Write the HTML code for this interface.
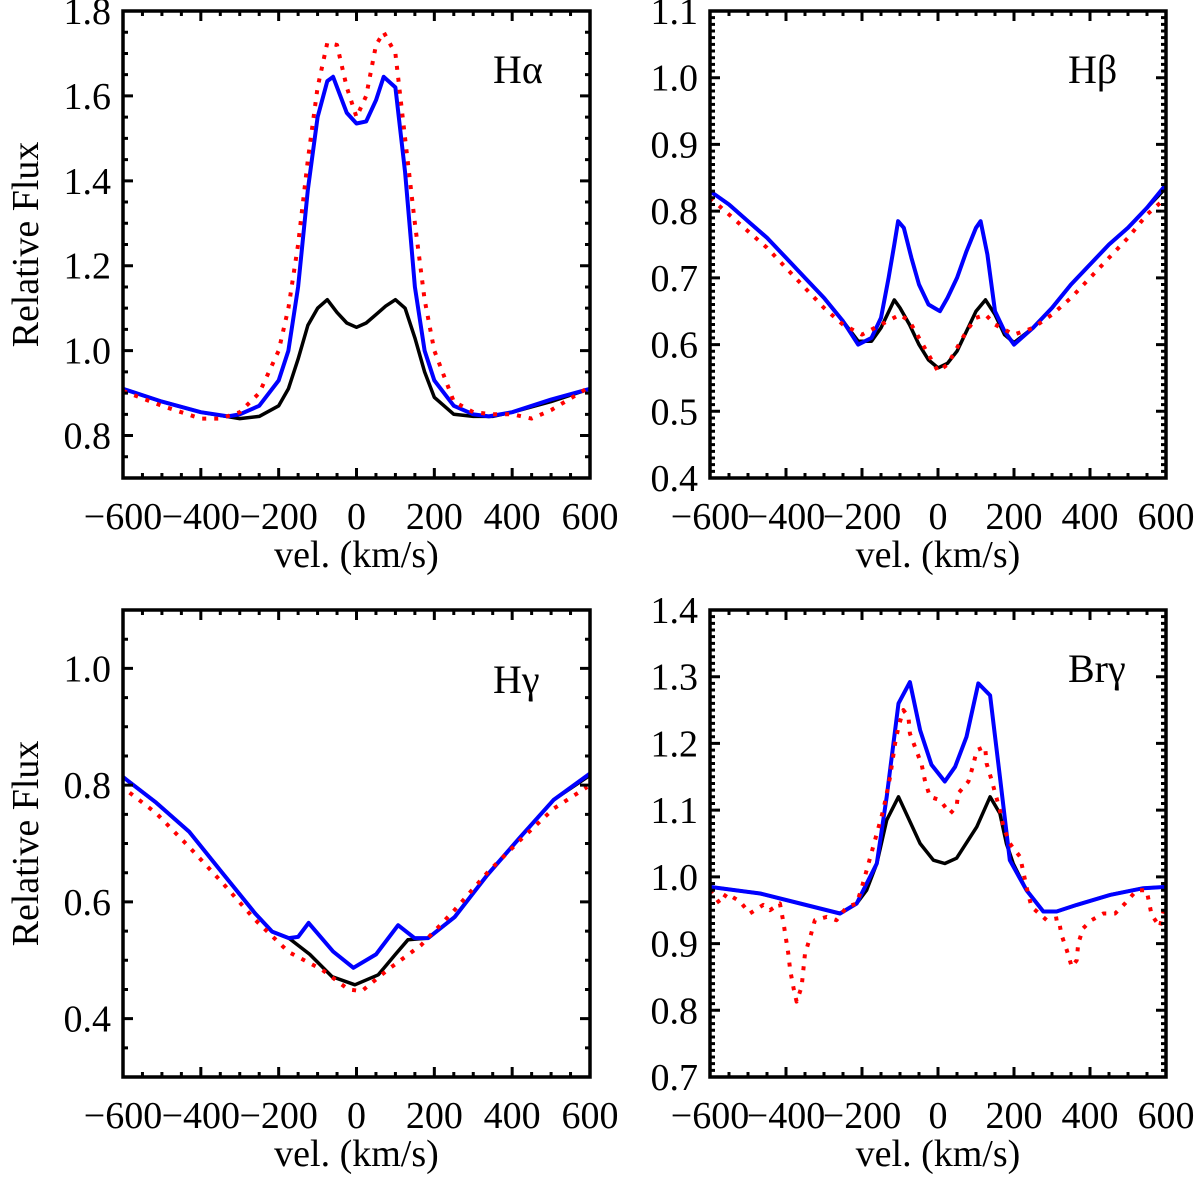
<!DOCTYPE html>
<html><head><meta charset="utf-8">
<style>
html,body{margin:0;padding:0;background:#fff;}
svg{display:block;}
text{font-family:"Liberation Serif",serif;fill:#000;}
</style></head>
<body>
<svg id="fig" width="1200" height="1181" viewBox="0 0 1200 1181" xmlns="http://www.w3.org/2000/svg"></svg>
<script>
// ---- Data ----
const haVb=[-600,-500,-400,-300,-250,-200,-175,-150,-125,-100,-75,-50,-25,0,25,50,75,100,125,150,175,200,250,300,350,400,500,600];
const haBlack=[0.91,0.88,0.855,0.84,0.845,0.87,0.91,0.98,1.06,1.10,1.12,1.09,1.065,1.055,1.065,1.085,1.105,1.12,1.10,1.03,0.95,0.89,0.85,0.845,0.845,0.855,0.88,0.91];
const haVu=[-600,-500,-400,-330,-300,-250,-200,-175,-150,-125,-100,-75,-60,-25,0,25,50,70,100,125,150,175,200,250,300,340,400,500,600];
const haBlue=[0.91,0.88,0.855,0.845,0.85,0.87,0.93,1.0,1.15,1.38,1.55,1.635,1.645,1.56,1.535,1.54,1.59,1.645,1.62,1.42,1.15,1.0,0.93,0.87,0.85,0.845,0.855,0.885,0.91];
const haVr=[-600,-500,-400,-350,-300,-250,-200,-175,-150,-125,-100,-75,-50,-25,0,25,50,70,100,125,150,175,200,250,300,350,400,450,500,600];
const haRed=[0.905,0.87,0.84,0.84,0.855,0.9,1.0,1.1,1.25,1.45,1.62,1.725,1.72,1.62,1.55,1.6,1.72,1.75,1.70,1.5,1.3,1.12,1.0,0.88,0.855,0.85,0.85,0.84,0.86,0.915];

const hbVb=[-600,-550,-500,-450,-400,-350,-300,-250,-210,-175,-150,-115,-100,-75,-50,-25,0,25,50,75,100,125,150,175,200,250,300,350,400,450,500,550,600];
const hbBlack=[0.83,0.81,0.785,0.76,0.73,0.70,0.67,0.635,0.605,0.605,0.625,0.667,0.655,0.63,0.60,0.577,0.565,0.572,0.59,0.62,0.65,0.667,0.645,0.615,0.603,0.625,0.655,0.69,0.72,0.75,0.775,0.805,0.835];
const hbVu=[-600,-550,-500,-450,-400,-350,-300,-250,-210,-175,-150,-130,-115,-105,-90,-70,-50,-25,-10,5,25,50,75,100,112,130,150,175,200,250,300,350,400,450,500,550,600];
const hbBlue=[0.83,0.81,0.785,0.76,0.73,0.70,0.67,0.635,0.60,0.61,0.64,0.70,0.75,0.785,0.775,0.73,0.69,0.66,0.655,0.65,0.67,0.70,0.74,0.775,0.785,0.735,0.65,0.62,0.60,0.625,0.655,0.69,0.72,0.75,0.775,0.805,0.84];
const hbVr=[-600,-550,-500,-450,-400,-350,-300,-250,-200,-150,-100,-75,-50,-25,0,25,50,75,100,125,150,200,250,300,350,400,450,500,550,600];
const hbRed=[0.82,0.795,0.77,0.745,0.715,0.685,0.655,0.63,0.615,0.63,0.645,0.635,0.61,0.585,0.56,0.57,0.595,0.62,0.64,0.645,0.63,0.615,0.625,0.645,0.67,0.70,0.73,0.76,0.795,0.82];

const hgVb=[-600,-515,-430,-345,-260,-217,-174,-120,-63,-4,56,100,132,184,252,336,421,507,600];
const hgBlack=[0.814,0.77,0.72,0.65,0.58,0.549,0.538,0.51,0.472,0.458,0.475,0.51,0.535,0.538,0.574,0.646,0.711,0.775,0.817];
const hgVu=[-600,-515,-430,-345,-260,-217,-174,-150,-123,-60,-8,50,107,149,184,252,336,421,507,600];
const hgBlue=[0.814,0.77,0.72,0.65,0.58,0.549,0.538,0.54,0.564,0.515,0.487,0.51,0.56,0.538,0.538,0.574,0.646,0.711,0.775,0.82];
const hgVr=[-583,-515,-430,-345,-260,-174,-89,-21,13,81,166,252,336,421,507,593];
const hgRed=[0.787,0.752,0.694,0.633,0.569,0.514,0.484,0.45,0.447,0.484,0.526,0.586,0.65,0.706,0.76,0.797];

const bgVb=[-600,-468,-363,-258,-214,-188,-161,-135,-104,-47,-12,18,49,102,137,163,180,198,233,277,312,365,453,540,600];
const bgBlack=[0.985,0.975,0.96,0.945,0.96,0.98,1.02,1.085,1.12,1.05,1.025,1.02,1.028,1.075,1.12,1.095,1.05,1.02,0.98,0.948,0.948,0.958,0.973,0.983,0.985];
const bgVu=[-600,-468,-363,-258,-214,-192,-161,-135,-104,-74,-47,-17,18,45,75,106,137,163,189,233,277,312,365,453,540,600];
const bgBlue=[0.985,0.975,0.96,0.945,0.96,0.985,1.02,1.12,1.26,1.292,1.22,1.168,1.143,1.165,1.21,1.29,1.272,1.15,1.025,0.98,0.948,0.948,0.958,0.973,0.983,0.985];
const bgVr=[-600,-574,-556,-521,-495,-460,-442,-416,-407,-394,-389,-380,-372,-359,-350,-337,-324,-293,-267,-240,-214,-201,-179,-144,-126,-113,-104,-91,-78,-74,-43,-34,-21,5,32,49,53,80,93,102,124,128,141,163,172,189,216,233,246,286,317,325,339,352,365,369,382,404,435,466,492,523,549,562,584,597];
const bgRed=[0.98,0.96,0.975,0.963,0.945,0.958,0.95,0.96,0.933,0.885,0.86,0.833,0.813,0.835,0.885,0.908,0.935,0.94,0.935,0.955,0.96,0.983,1.028,1.1,1.15,1.2,1.225,1.25,1.24,1.215,1.168,1.143,1.12,1.115,1.095,1.105,1.125,1.143,1.168,1.19,1.195,1.17,1.145,1.1,1.075,1.05,1.03,0.985,0.955,0.935,0.938,0.913,0.89,0.865,0.875,0.9,0.923,0.935,0.945,0.945,0.96,0.98,0.98,0.943,0.925,0.958];

const xTicks=[-600,-400,-200,0,200,400,600];
const xTickLabels=["\u2212600","\u2212400","\u2212200","0","200","400","600"];

// ---- Drawing ----
const NS="http://www.w3.org/2000/svg";
const svg=document.getElementById('fig');
function el(tag,attrs,parent){const e=document.createElementNS(NS,tag);for(const k in attrs)e.setAttribute(k,attrs[k]);(parent||svg).appendChild(e);return e;}

const panels=[
 {name:'h-alpha',x0:123,x1:590,y0:11,y1:478,ymin:0.7,ymax:1.8,ymaj:0.2,ymin2:0.05,yt:[0.8,1.0,1.2,1.4,1.6,1.8],lab:'H\u03b1',lx:493,ly:83,title:true,
  series:[[haVb,haBlack,'black'],[haVu,haBlue,'blue'],[haVr,haRed,'red']]},
 {name:'h-beta',x0:710,x1:1166,y0:11,y1:478,ymin:0.4,ymax:1.1,ymaj:0.1,ymin2:0.01,yt:[0.4,0.5,0.6,0.7,0.8,0.9,1.0,1.1],lab:'H\u03b2',lx:1068,ly:83,title:false,
  series:[[hbVb,hbBlack,'black'],[hbVu,hbBlue,'blue'],[hbVr,hbRed,'red']]},
 {name:'h-gamma',x0:123,x1:590,y0:610,y1:1077,ymin:0.3,ymax:1.1,ymaj:0.2,ymin2:0.05,yt:[0.4,0.6,0.8,1.0],lab:'H\u03b3',lx:493,ly:693,title:true,
  series:[[hgVb,hgBlack,'black'],[hgVu,hgBlue,'blue'],[hgVr,hgRed,'red']]},
 {name:'br-gamma',x0:710,x1:1166,y0:610,y1:1077,ymin:0.7,ymax:1.4,ymaj:0.1,ymin2:0.01,yt:[0.7,0.8,0.9,1.0,1.1,1.2,1.3,1.4],lab:'Br\u03b3',lx:1068,ly:682,title:false,
  series:[[bgVb,bgBlack,'black'],[bgVu,bgBlue,'blue'],[bgVr,bgRed,'red']]}
];

panels.forEach(p=>{
  const g=el('g',{});
  
  
  const sx=v=>p.x0+(v+600)/1200*(p.x1-p.x0);
  const sy=f=>p.y1-(f-p.ymin)/(p.ymax-p.ymin)*(p.y1-p.y0);
  const clipId='clip-'+p.name;
  const cp=el('clipPath',{id:clipId},g);
  el('rect',{x:p.x0,y:p.y0,width:p.x1-p.x0,height:p.y1-p.y0},cp);
  p.series.forEach(s=>{
    const [vs,fs,c]=s;
    const d=vs.map((v,i)=>(i?'L':'M')+sx(v).toFixed(1)+' '+sy(fs[i]).toFixed(1)).join(' ');
    const a={d:d,fill:'none','clip-path':'url(#'+clipId+')','stroke-linejoin':'round'};
    if(c==='black'){a.stroke='#000';a['stroke-width']=3.5;}
    else if(c==='blue'){a.stroke='#0000ff';a['stroke-width']=4;}
    else {a.stroke='#ff0000';a['stroke-width']=4;a['stroke-dasharray']='4 8';}
    const path=el('path',a,g);
    
    
  });
  let td='';
  for(let v=-600;v<=600;v+=50){
    const len=(v%200===0)?10:5;const x=sx(v);
    td+=`M${x} ${p.y1}V${p.y1-len}M${x} ${p.y0}V${p.y0+len}`;
  }
  const nMin=Math.round((p.ymax-p.ymin)/p.ymin2);
  for(let i=0;i<=nMin;i++){
    const f=p.ymin+i*p.ymin2;const y=sy(f);
    const isMaj=p.yt.some(t=>Math.abs(t-f)<1e-6);
    const len=isMaj?10:5;
    td+=`M${p.x0} ${y}H${p.x0+len}M${p.x1} ${y}H${p.x1-len}`;
  }
  const ticks=el('path',{d:td,stroke:'#000','stroke-width':3,fill:'none'},g);
  
  
  const frame=el('rect',{x:p.x0,y:p.y0,width:p.x1-p.x0,height:p.y1-p.y0,fill:'none',stroke:'#000','stroke-width':3.5},g);
  
  
  xTicks.forEach((v,i)=>{
    const t=el('text',{x:sx(v),y:p.y1+51,'font-size':38,'text-anchor':'middle'},g);
    t.textContent=xTickLabels[i];
    
    
  });
  p.yt.forEach(f=>{
    const t=el('text',{x:p.x0-12,y:sy(f)+13,'font-size':38,'text-anchor':'end'},g);
    t.textContent=f.toFixed(1);
    
    
  });
  const xt=el('text',{x:(p.x0+p.x1)/2,y:p.y1+89,'font-size':38,'text-anchor':'middle'},g);
  xt.textContent='vel. (km/s)';
  
  
  if(p.title){
    const cy=(p.y0+p.y1)/2;
    const yt=el('text',{x:38,y:cy,'font-size':38,'text-anchor':'middle',transform:`rotate(-90 38 ${cy})`},g);
    yt.textContent='Relative Flux';
    
    
  }
  const lb=el('text',{x:p.lx,y:p.ly,'font-size':40},g);
  lb.textContent=p.lab;
  
  
});
</script>
</body></html>
